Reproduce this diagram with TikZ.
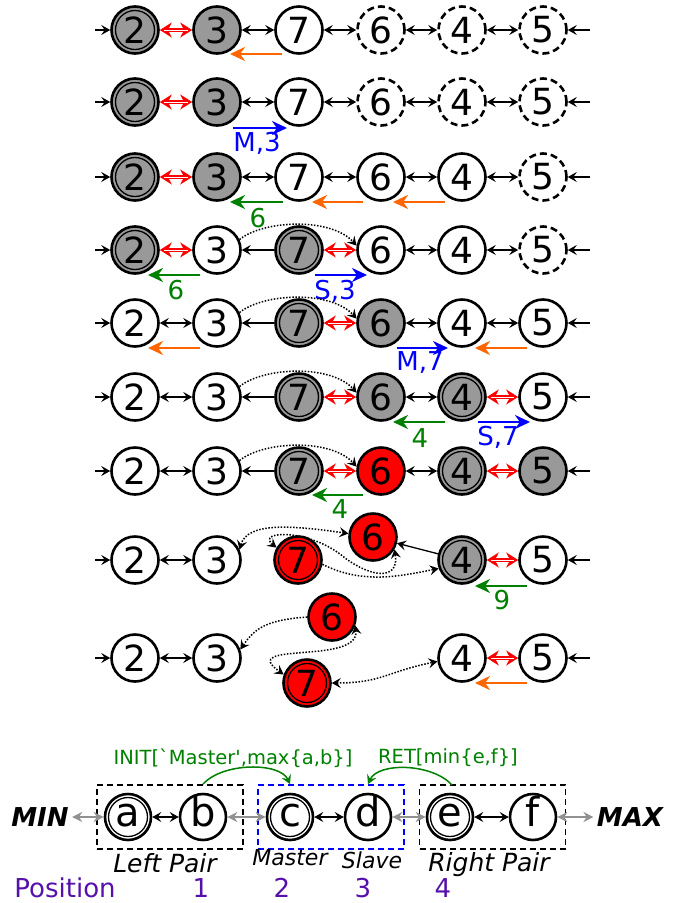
\documentclass[tikz,border=0pt]{standalone}
\usepackage{fontspec}
\setmainfont{DejaVu Sans}
\usetikzlibrary{arrows.meta}

\definecolor{donegray}{RGB}{153,153,153}
\definecolor{mvorange}{RGB}{255,102,0}
\definecolor{mvgreen}{RGB}{0,128,0}
\definecolor{mvblue}{RGB}{0,0,255}
\definecolor{pospurple}{RGB}{85,17,170}
\definecolor{linkgray}{RGB}{145,145,145}

\tikzset{
  vtx/.style={circle, draw, line width=2.6pt, minimum size=47pt, inner sep=0pt, fill=white,
    font=\fontsize{36}{36}\selectfont},
  done/.style={fill=donegray},
  hit/.style={fill=red},
  acc/.style={path picture={\draw[line width=1.3pt] (path picture bounding box.center) circle (19.5pt);}},
  pend/.style={dash pattern=on 7pt off 4pt},
  lnk/.style={line width=1.3pt},
  rlnk/.style={draw=red, line width=4.6pt, {Stealth[length=12pt,width=15pt]}-{Stealth[length=12pt,width=15pt]},
    postaction={draw=white, line width=0.8pt, -, shorten <=4pt, shorten >=4pt}},
  mv/.style={line width=2.8pt, -{Stealth[length=15pt,width=14pt]}},
  dt/.style={line width=1.5pt, dash pattern=on 1.5pt off 1.6pt},
  lbl/.style={font=\fontsize{26}{26}\selectfont},
  pairbox/.style={draw, line width=1.8pt, dash pattern=on 6pt off 4pt, minimum width=146pt, minimum height=64pt},
  gryl/.style={draw=linkgray, line width=1.8pt, {Stealth[length=10pt,width=10pt]}-{Stealth[length=10pt,width=10pt]}},
}

\begin{document}
\begin{tikzpicture}[x=1pt, y=1pt, >={Stealth[length=9pt,width=10pt,inset=3.5pt]}]
\useasboundingbox (0,0) rectangle (684,-903);

% row 1
\node[vtx,done,acc] (r1n2) at (135,-30) {2};
\node[vtx,done] (r1n3) at (217,-30) {3};
\node[vtx] (r1n7) at (299,-30) {7};
\node[vtx,pend] (r1n6) at (381,-30) {6};
\node[vtx,pend] (r1n4) at (462,-30) {4};
\node[vtx,pend] (r1n5) at (543,-30) {5};
\coordinate (r1l) at (95,-30); \coordinate (r1r) at (590,-30);
\draw[lnk,->] (r1l) -- (r1n2); \draw[rlnk] (r1n2) -- (r1n3); \draw[lnk,<->] (r1n3) -- (r1n7);
\draw[lnk,<->] (r1n7) -- (r1n6); \draw[lnk,<->] (r1n6) -- (r1n4); \draw[lnk,<->] (r1n4) -- (r1n5);
\draw[lnk,->] (r1r) -- (r1n5);
\draw[mv,mvorange] (282,-54) -- (230,-54);

% row 2
\node[vtx,done,acc] (r2n2) at (135,-102) {2};
\node[vtx,done] (r2n3) at (217,-102) {3};
\node[vtx] (r2n7) at (299,-102) {7};
\node[vtx,pend] (r2n6) at (381,-102) {6};
\node[vtx,pend] (r2n4) at (462,-102) {4};
\node[vtx,pend] (r2n5) at (543,-102) {5};
\coordinate (r2l) at (95,-102); \coordinate (r2r) at (590,-102);
\draw[lnk,->] (r2l) -- (r2n2); \draw[rlnk] (r2n2) -- (r2n3); \draw[lnk,<->] (r2n3) -- (r2n7);
\draw[lnk,<->] (r2n7) -- (r2n6); \draw[lnk,<->] (r2n6) -- (r2n4); \draw[lnk,<->] (r2n4) -- (r2n5);
\draw[lnk,->] (r2r) -- (r2n5);
\draw[mv,mvblue] (233,-128) -- (287,-128);
\node[lbl,text=mvblue] (t2) at (257,-143) {M,3};

% row 3
\node[vtx,done,acc] (r3n2) at (135,-177) {2};
\node[vtx,done] (r3n3) at (217,-177) {3};
\node[vtx] (r3n7) at (299,-177) {7};
\node[vtx] (r3n6) at (381,-177) {6};
\node[vtx] (r3n4) at (462,-177) {4};
\node[vtx,pend] (r3n5) at (543,-177) {5};
\coordinate (r3l) at (95,-177); \coordinate (r3r) at (590,-177);
\draw[lnk,->] (r3l) -- (r3n2); \draw[rlnk] (r3n2) -- (r3n3); \draw[lnk,<->] (r3n3) -- (r3n7);
\draw[lnk,<->] (r3n7) -- (r3n6); \draw[lnk,<->] (r3n6) -- (r3n4); \draw[lnk,<->] (r3n4) -- (r3n5);
\draw[lnk,->] (r3r) -- (r3n5);
\draw[mv,mvgreen] (283,-202) -- (230,-202);
\node[lbl,text=mvgreen] (t3) at (258,-218) {6};
\draw[mv,mvorange] (363,-202) -- (312,-202);
\draw[mv,mvorange] (445,-202) -- (393,-202);

% row 4
\node[vtx,done,acc] (r4n2) at (135,-250) {2};
\node[vtx] (r4n3) at (217,-250) {3};
\node[vtx,done,acc] (r4n7) at (299,-250) {7};
\node[vtx] (r4n6) at (381,-250) {6};
\node[vtx] (r4n4) at (462,-250) {4};
\node[vtx,pend] (r4n5) at (543,-250) {5};
\coordinate (r4l) at (95,-250); \coordinate (r4r) at (590,-250);
\draw[lnk,->] (r4l) -- (r4n2); \draw[rlnk] (r4n2) -- (r4n3); \draw[lnk,->] (r4n7) -- (r4n3);
\draw[rlnk] (r4n7) -- (r4n6); \draw[lnk,<->] (r4n6) -- (r4n4); \draw[lnk,<->] (r4n4) -- (r4n5);
\draw[lnk,->] (r4r) -- (r4n5);
\draw[dt,->] (r4n3.25) .. controls +(25,20) and +(-25,28) .. (r4n6.170);
\draw[mv,mvgreen] (200,-275) -- (148,-275);
\node[lbl,text=mvgreen] (t4a) at (176,-290) {6};
\draw[mv,mvblue] (315,-275) -- (367,-275);
\node[lbl,text=mvblue] (t4b) at (335,-291) {S,3};

% row 5
\node[vtx] (r5n2) at (135,-323) {2};
\node[vtx] (r5n3) at (217,-323) {3};
\node[vtx,done,acc] (r5n7) at (299,-323) {7};
\node[vtx,done] (r5n6) at (381,-323) {6};
\node[vtx] (r5n4) at (462,-323) {4};
\node[vtx] (r5n5) at (543,-323) {5};
\coordinate (r5l) at (95,-323); \coordinate (r5r) at (590,-323);
\draw[lnk,->] (r5l) -- (r5n2); \draw[lnk,<->] (r5n2) -- (r5n3); \draw[lnk,->] (r5n7) -- (r5n3);
\draw[rlnk] (r5n7) -- (r5n6); \draw[lnk,<->] (r5n6) -- (r5n4); \draw[lnk,<->] (r5n4) -- (r5n5);
\draw[lnk,->] (r5r) -- (r5n5);
\draw[dt,->] (r5n3.25) .. controls +(25,20) and +(-25,28) .. (r5n6.170);
\draw[mv,mvorange] (200,-348) -- (148,-348);
\draw[mv,mvblue] (397,-348) -- (448,-348);
\node[lbl,text=mvblue] (t5) at (420,-363) {M,7};
\draw[mv,mvorange] (527,-348) -- (475,-348);

% row 6
\node[vtx] (r6n2) at (135,-397) {2};
\node[vtx] (r6n3) at (217,-397) {3};
\node[vtx,done,acc] (r6n7) at (299,-397) {7};
\node[vtx,done] (r6n6) at (381,-397) {6};
\node[vtx,done,acc] (r6n4) at (462,-397) {4};
\node[vtx] (r6n5) at (543,-397) {5};
\coordinate (r6l) at (95,-397); \coordinate (r6r) at (590,-397);
\draw[lnk,->] (r6l) -- (r6n2); \draw[lnk,<->] (r6n2) -- (r6n3); \draw[lnk,->] (r6n7) -- (r6n3);
\draw[rlnk] (r6n7) -- (r6n6); \draw[lnk,<->] (r6n6) -- (r6n4); \draw[rlnk] (r6n4) -- (r6n5);
\draw[lnk,->] (r6r) -- (r6n5);
\draw[dt,->] (r6n3.25) .. controls +(25,20) and +(-25,28) .. (r6n6.170);
\draw[mv,mvgreen] (445,-422) -- (393,-422);
\node[lbl,text=mvgreen] (t6a) at (420,-438) {4};
\draw[mv,mvblue] (478,-422) -- (530,-422);
\node[lbl,text=mvblue] (t6b) at (498,-437) {S,7};

% row 7
\node[vtx] (r7n2) at (135,-471) {2};
\node[vtx] (r7n3) at (217,-471) {3};
\node[vtx,done,acc] (r7n7) at (299,-471) {7};
\node[vtx,hit] (r7n6) at (381,-471) {6};
\node[vtx,done,acc] (r7n4) at (462,-471) {4};
\node[vtx,done] (r7n5) at (543,-471) {5};
\coordinate (r7l) at (95,-471); \coordinate (r7r) at (590,-471);
\draw[lnk,->] (r7l) -- (r7n2); \draw[lnk,<->] (r7n2) -- (r7n3); \draw[lnk,->] (r7n7) -- (r7n3);
\draw[rlnk] (r7n7) -- (r7n6); \draw[lnk,<->] (r7n6) -- (r7n4); \draw[rlnk] (r7n4) -- (r7n5);
\draw[lnk,->] (r7r) -- (r7n5);
\draw[dt,->] (r7n3.25) .. controls +(25,20) and +(-25,28) .. (r7n6.170);
\draw[mv,mvgreen] (363,-495) -- (312,-495);
\node[lbl,text=mvgreen] (t7) at (340,-509) {4};

% row 8
\node[vtx] (r8n2) at (135,-560) {2};
\node[vtx] (r8n3) at (217,-560) {3};
\node[vtx,hit,acc] (r8n7) at (298,-560) {7};
\node[vtx,hit] (r8n6) at (373,-537) {6};
\node[vtx,done,acc] (r8n4) at (462,-560) {4};
\node[vtx] (r8n5) at (543,-560) {5};
\coordinate (r8l) at (95,-560); \coordinate (r8r) at (590,-560);
\draw[lnk,->] (r8l) -- (r8n2); \draw[lnk,<->] (r8n2) -- (r8n3);
\draw[lnk,->] (r8n4) -- (r8n6); \draw[rlnk] (r8n4) -- (r8n5);
\draw[lnk,->] (r8r) -- (r8n5);
\draw[dt,<->] (r8n3.25) .. controls +(8,28) and +(-55,8) .. (r8n6.172);
\draw[dt,<->] (r8n7.150) .. controls +(-21,17) and +(-35,30) .. (345,-558)
  .. controls +(27,-20) and +(5,-31) .. (r8n6.-30);
\draw[dt,->] (r8n7.-10) .. controls +(40,-20) and +(-40,-8) .. (r8n4.200);
\draw[mv,mvgreen] (527,-586) -- (475,-586);
\node[lbl,text=mvgreen] (t8) at (502,-600) {9};

% row 9
\node[vtx] (r9n2) at (135,-658) {2};
\node[vtx] (r9n3) at (217,-658) {3};
\node[vtx,hit] (r9n6) at (332,-617) {6};
\node[vtx,hit,acc] (r9n7) at (307,-683) {7};
\node[vtx] (r9n4) at (462,-658) {4};
\node[vtx] (r9n5) at (543,-658) {5};
\coordinate (r9l) at (95,-658); \coordinate (r9r) at (590,-658);
\draw[lnk,->] (r9l) -- (r9n2); \draw[lnk,<->] (r9n2) -- (r9n3);
\draw[rlnk] (r9n4) -- (r9n5); \draw[lnk,->] (r9r) -- (r9n5);
\draw[dt,->] (r9n6.west) .. controls +(-40,-3) and +(15,22) .. (r9n3.20);
\draw[dt,<->] (r9n6.-20) .. controls +(5,-40) and +(-48,34) .. (r9n7.160);
\draw[dt,<->] (r9n7.east) .. controls +(50,0) and +(-50,-10) .. (r9n4.188);
\draw[mv,mvorange] (527,-683) -- (475,-683);

% legend
\node[pairbox] (lpair) at (170,-817) {};
\node[pairbox,draw=mvblue] (mpair) at (331,-817) {};
\node[pairbox] (rpair) at (492.5,-817) {};
\begin{scope}[every node/.append style={vtx, minimum size=46pt, font=\fontsize{40}{40}\selectfont, text height=19pt, text depth=0pt}]
\node[acc] (a) at (128,-817) {a};
\node (b) at (203,-817) {b};
\node[acc] (c) at (290,-817) {c};
\node (d) at (368,-817) {d};
\node[acc] (e) at (450,-817) {e};
\node (f) at (533,-817) {f};
\end{scope}
\node[font=\fontsize{26}{26}\selectfont\bfseries\itshape] (min) at (40,-817) {MIN};
\node[font=\fontsize{26}{26}\selectfont\bfseries\itshape] (max) at (630,-817) {MAX};
\draw[gryl] (min) -- (a); \draw[lnk,<->] (a) -- (b); \draw[gryl] (b) -- (c);
\draw[lnk,<->] (c) -- (d); \draw[gryl] (d) -- (e); \draw[lnk,<->] (e) -- (f);
\draw[gryl] (f) -- (max);
\draw[mvgreen, line width=1.5pt, ->] (b |- lpair.north) .. controls +(20,22) and +(-10,22) .. (c |- mpair.north);
\draw[mvgreen, line width=1.5pt, ->] (452,-785) .. controls +(-20,22) and +(10,22) .. (d |- mpair.north);
\node[text=mvgreen, font=\fontsize{19.5}{19.5}\selectfont] (init) at (233,-758) {INIT[\textasciigrave Master\textquotesingle,max\{a,b\}]};
\node[text=mvgreen, font=\fontsize{19.5}{19.5}\selectfont] (ret) at (448,-758) {RET[min\{e,f\}]};
\node[font=\fontsize{25}{25}\selectfont\itshape] (lp) at (165,-863) {Left Pair};
\node[font=\fontsize{22}{22}\selectfont\itshape] (ms) at (290,-858) {Master};
\node[font=\fontsize{22}{22}\selectfont\itshape] (sl) at (372,-860) {Slave};
\node[font=\fontsize{25}{25}\selectfont\itshape] (rp) at (489,-865) {Right Pair};
\begin{scope}[every node/.append style={text=pospurple, font=\fontsize{26}{26}\selectfont}]
\node (pos) at (65,-888) {Position};
\node (p1) at (201,-888) {1};
\node (p2) at (282,-888) {2};
\node (p3) at (363,-888) {3};
\node (p4) at (443,-888) {4};
\end{scope}
\end{tikzpicture}
\end{document}
